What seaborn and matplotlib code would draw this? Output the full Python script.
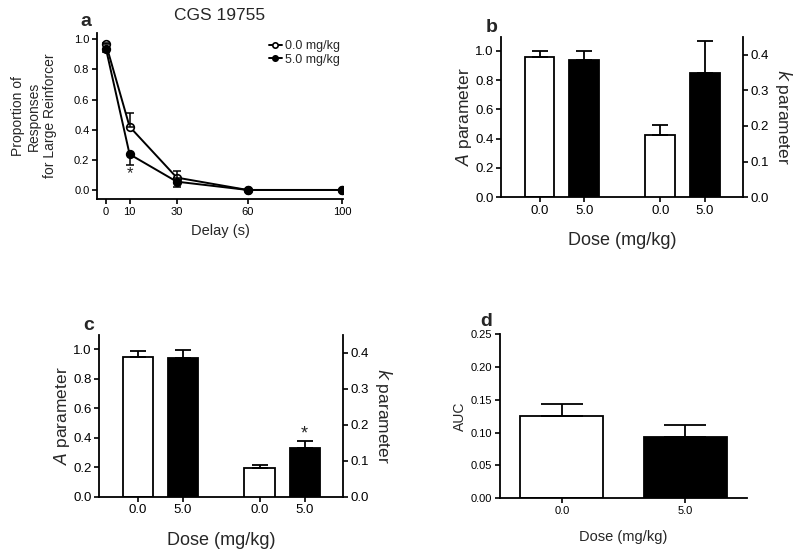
import matplotlib
matplotlib.use('Agg')
import matplotlib.pyplot as plt
import numpy as np
import pandas as pd
import seaborn as sns

sns.set_style('ticks')
plt.rcParams['font.family'] = ['Liberation Sans', 'DejaVu Sans']
plt.rcParams['axes.linewidth'] = 1.3
plt.rcParams['xtick.major.width'] = 1.2
plt.rcParams['ytick.major.width'] = 1.2
plt.rcParams['xtick.major.size'] = 3.5
plt.rcParams['ytick.major.size'] = 3.5
plt.rcParams['xtick.major.pad'] = 2
plt.rcParams['ytick.major.pad'] = 2
plt.rcParams['xtick.color'] = 'black'
plt.rcParams['ytick.color'] = 'black'
plt.rcParams['axes.edgecolor'] = 'black'

# Panel a: proportion of responses for the large reinforcer
delays = [0, 10, 30, 60, 100]
prop_vehicle = [0.967, 0.42, 0.082, 0.0, 0.0]
sem_vehicle = [0.008, 0.09, 0.044, 0.0, 0.0]
prop_cgs = [0.936, 0.237, 0.055, 0.0, 0.0]
sem_cgs = [0.018, 0.071, 0.037, 0.0, 0.0]

# Dose groups used in b, c, d
doses = ['0.0', '5.0']

# Panel b: A and k parameters
b_A = [0.955, 0.936]
b_A_sem = [0.043, 0.062]
b_k = [0.174, 0.348]
b_k_sem = [0.028, 0.091]

# Panel c: A and k parameters
c_A = [0.948, 0.937]
c_A_sem = [0.041, 0.058]
c_k = [0.081, 0.136]
c_k_sem = [0.008, 0.019]

# Panel d: area under the curve
d_auc = [0.126, 0.094]
d_auc_sem = [0.017, 0.018]

# layout: bar centres for the A and k groups
A_pos = [0.0, 1.0]
k_pos = [2.7, 3.7]
bar_colors = ['white', 'black']

fig = plt.figure(figsize=(8, 5.56), dpi=100)


def param_panel(rect, A, A_sem, k, k_sem, star=False):
    ax = fig.add_axes(rect)
    axk = ax.twinx()
    dfA = pd.DataFrame({'pos': A_pos, 'val': A, 'dose': doses})
    dfk = pd.DataFrame({'pos': k_pos, 'val': k, 'dose': doses})
    sns.barplot(data=dfA, x='pos', y='val', hue='dose', palette=bar_colors,
                native_scale=True, dodge=False, width=0.67, edgecolor='black',
                linewidth=1.3, legend=False, ax=ax)
    sns.barplot(data=dfk, x='pos', y='val', hue='dose', palette=bar_colors,
                native_scale=True, dodge=False, width=0.67, edgecolor='black',
                linewidth=1.3, legend=False, ax=axk)
    ax.errorbar(A_pos, A, yerr=[np.zeros(2), A_sem], fmt='none', ecolor='black',
                elinewidth=1.3, capsize=6, capthick=1.3, zorder=5)
    axk.errorbar(k_pos, k, yerr=[np.zeros(2), k_sem], fmt='none', ecolor='black',
                 elinewidth=1.3, capsize=6, capthick=1.3, zorder=5)
    if star:
        axk.text(k_pos[1], k[1] + k_sem[1] + 0.02, '*', ha='center', va='center', fontsize=13)
    ax.set_xlim(-0.86, 4.55)
    ax.set_ylim(0, 1.095)
    axk.set_ylim(0, 0.45)
    ax.set_xticks(A_pos + k_pos)
    ax.set_xticklabels(doses + doses)
    ax.set_yticks(np.arange(0, 1.01, 0.2))
    ax.set_yticklabels(['%.1f' % v for v in np.arange(0, 1.01, 0.2)])
    axk.set_yticks(np.arange(0, 0.41, 0.1))
    axk.set_yticklabels(['%.1f' % v for v in np.arange(0, 0.41, 0.1)])
    ax.tick_params(labelsize=9.5)
    axk.tick_params(labelsize=9.5)
    ax.set_xlabel('Dose (mg/kg)', fontsize=13, labelpad=11)
    ax.set_ylabel(r'$\mathit{A}$ parameter', fontsize=12.5, labelpad=1)
    axk.set_ylabel(r'$\mathit{k}$ parameter', fontsize=12.5, rotation=270,
                   va='bottom', labelpad=3)
    ax.spines['top'].set_visible(False)
    ax.spines['right'].set_visible(False)
    axk.spines['top'].set_visible(False)
    axk.spines['left'].set_visible(False)
    axk.spines['bottom'].set_visible(False)
    return ax


# ---- panel a
ax = fig.add_axes([0.1213, 0.6421, 0.3075, 0.2986])
sns.lineplot(x=delays, y=prop_vehicle, color='black', marker='o', markersize=5.5,
             markerfacecolor='white', markeredgecolor='black', markeredgewidth=1.2,
             linewidth=1.4, label='0.0 mg/kg', ax=ax)
sns.lineplot(x=delays, y=prop_cgs, color='black', marker='o', markersize=5.5,
             markerfacecolor='black', markeredgecolor='black', markeredgewidth=1.2,
             linewidth=1.4, label='5.0 mg/kg', ax=ax)
ax.errorbar(delays, prop_vehicle, yerr=[np.zeros(5), sem_vehicle], fmt='none',
            ecolor='black', elinewidth=1.1, capsize=3, capthick=1.1)
ax.errorbar(delays, prop_cgs, yerr=[sem_cgs, np.zeros(5)], fmt='none',
            ecolor='black', elinewidth=1.1, capsize=3, capthick=1.1)
ax.text(10, 0.11, '*', ha='center', va='center', fontsize=12)
ax.set_xlim(-3.8, 100.5)
ax.set_ylim(-0.06, 1.042)
ax.set_xticks(delays)
ax.set_yticks(np.arange(0, 1.01, 0.2))
ax.set_yticklabels(['%.1f' % v for v in np.arange(0, 1.01, 0.2)])
ax.tick_params(labelsize=8)
ax.set_xlabel('Delay (s)', fontsize=10.5, labelpad=5)
ax.set_ylabel('Proportion of\nResponses\nfor Large Reinforcer', fontsize=10, labelpad=12)
ax.set_title('CGS 19755', fontsize=12.5, pad=9)
ax.legend(loc='upper right', bbox_to_anchor=(1.02, 1.0), frameon=False, fontsize=9,
          handlelength=1.0, handletextpad=0.3, labelspacing=0.1, markerscale=0.7,
          borderaxespad=0.2)
sns.despine(ax=ax)

# ---- panel b
param_panel([0.6263, 0.6451, 0.3025, 0.2888], b_A, b_A_sem, b_k, b_k_sem)

# ---- panel c
param_panel([0.1238, 0.1067, 0.305, 0.2908], c_A, c_A_sem, c_k, c_k_sem, star=True)

# ---- panel d
ax = fig.add_axes([0.625, 0.1038, 0.3088, 0.295])
dfd = pd.DataFrame({'dose': doses, 'auc': d_auc})
sns.barplot(data=dfd, x='dose', y='auc', hue='dose', palette=bar_colors, width=0.67,
            edgecolor='black', linewidth=1.3, legend=False, ax=ax)
ax.errorbar([0, 1], d_auc, yerr=[np.zeros(2), d_auc_sem], fmt='none', ecolor='black',
            elinewidth=1.3, capsize=15, capthick=1.3, zorder=5)
ax.set_xlim(-0.5, 1.5)
ax.set_ylim(0, 0.25)
ax.set_yticks(np.arange(0, 0.251, 0.05))
ax.set_yticklabels(['%.2f' % v for v in np.arange(0, 0.251, 0.05)])
ax.tick_params(labelsize=8)
ax.set_xlabel('Dose (mg/kg)', fontsize=10.5, labelpad=10)
ax.set_ylabel('AUC', fontsize=10, labelpad=3)
sns.despine(ax=ax)

# panel letters
for letter, x, y in [('a', 86, 22), ('b', 492, 27), ('c', 89, 325), ('d', 486, 321)]:
    fig.text(x / 800, 1 - y / 556, letter, fontsize=14, fontweight='bold',
             ha='center', va='center')

fig.savefig('out.png', dpi=100)
